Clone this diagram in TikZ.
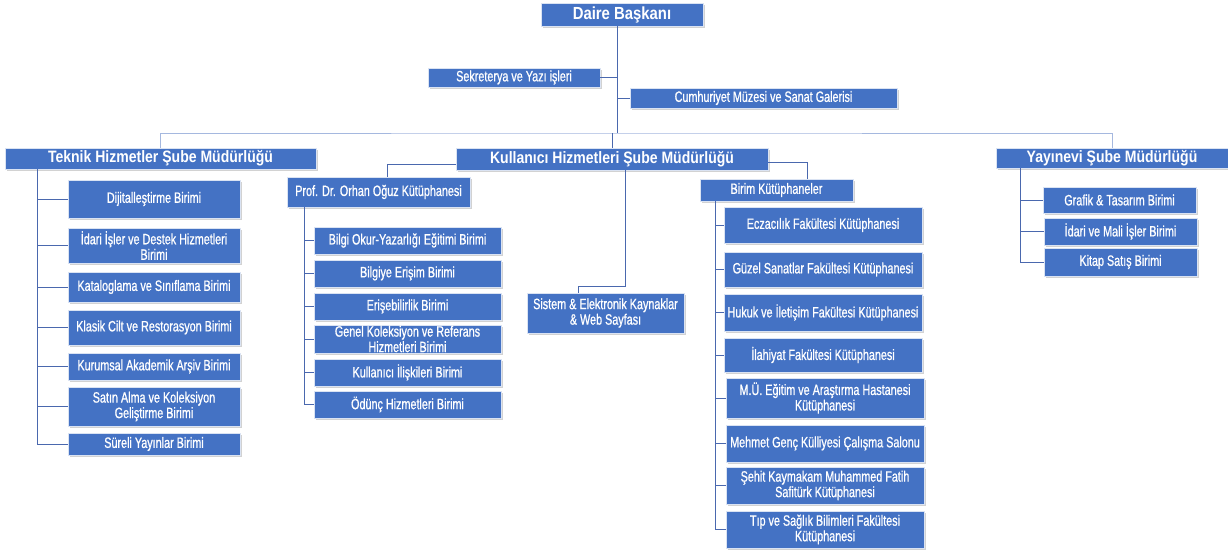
\documentclass[tikz,border=0pt]{standalone}
\usepackage{fontspec}
\setmainfont{Liberation Sans}[FakeStretch=0.72,FakeBold=0.8]
\newfontfamily\headfont{Liberation Sans}[FakeStretch=0.85]
\usetikzlibrary{shadows}
\definecolor{boxblue}{HTML}{4472C4}
\definecolor{linkblue}{HTML}{4A68AE}
\definecolor{barblue}{HTML}{A5B8DF}
\begin{document}
\begin{tikzpicture}[x=1pt,y=-1pt,
  unit/.style={fill=boxblue, draw=white!80!boxblue, line width=0.4pt, text=white, align=center, inner sep=0pt,
    font=\fontsize{15}{15.5}\selectfont, drop shadow={shadow xshift=2pt,shadow yshift=-2pt,opacity=0.35}},
  head/.style={unit, font=\headfont\fontsize{16.5}{19}\selectfont\bfseries},
  sz/.style 2 args={minimum width=#1pt, minimum height=#2pt},
  link/.style={draw=linkblue, line width=0.8pt}]
\fill[white] (0,0) rectangle (1228,553);
\useasboundingbox (0,0) rectangle (1228,553);
\node[head, sz={162}{23}, font=\headfont\fontsize{17.5}{19}\selectfont\bfseries] (daire) at (622,14.5) {Daire Başkanı};
\node[unit, sz={172}{19}] (sekreterya) at (514,77.5) {Sekreterya ve Yazı işleri};
\node[unit, sz={267}{20}] (muze) at (763.5,98) {Cumhuriyet Müzesi ve Sanat Galerisi};
\node[head, sz={311}{21}] (teknik) at (160.5,158.5) {Teknik Hizmetler Şube Müdürlüğü};
\node[head, sz={312}{22}] (kullanici) at (612,159) {Kullanıcı Hizmetleri Şube Müdürlüğü};
\node[head, sz={232}{20}] (yayinevi) at (1112,158) {Yayınevi Şube Müdürlüğü};
\node[unit, sz={172}{38}] (dijital) at (154,199) {Dijitalleştirme Birimi};
\node[unit, sz={172}{35}] (idari) at (154,245.5) {İdari İşler ve Destek Hizmetleri\\Birimi};
\node[unit, sz={172}{30}] (katalog) at (154,287) {Kataloglama ve Sınıflama Birimi};
\node[unit, sz={172}{35}] (cilt) at (154,327.5) {Klasik Cilt ve Restorasyon Birimi};
\node[unit, sz={172}{27}] (arsiv) at (154,366.5) {Kurumsal Akademik Arşiv Birimi};
\node[unit, sz={172}{39}] (satinalma) at (154,406.5) {Satın Alma ve Koleksiyon\\Geliştirme Birimi};
\node[unit, sz={172}{22}] (sureli) at (154,444) {Süreli Yayınlar Birimi};
\node[unit, sz={183}{30}] (prof) at (378.5,192) {Prof. Dr. Orhan Oğuz Kütüphanesi};
\node[unit, sz={187}{27}] (okuryazar) at (407.5,240.5) {Bilgi Okur-Yazarlığı Eğitimi Birimi};
\node[unit, sz={187}{27}] (erisim) at (407.5,273.5) {Bilgiye Erişim Birimi};
\node[unit, sz={187}{27}] (erisebilir) at (407.5,306.5) {Erişebilirlik Birimi};
\node[unit, sz={187}{28}] (genel) at (407.5,339) {Genel Koleksiyon ve Referans\\Hizmetleri Birimi};
\node[unit, sz={187}{27}] (iliski) at (407.5,372.5) {Kullanıcı İlişkileri Birimi};
\node[unit, sz={187}{27}] (odunc) at (407.5,404.5) {Ödünç Hizmetleri Birimi};
\node[unit, sz={157}{40}] (sistem) at (605.5,313) {Sistem \& Elektronik Kaynaklar\\\& Web Sayfası};
\node[unit, sz={153}{22}] (birim) at (776.5,190) {Birim Kütüphaneler};
\node[unit, sz={198}{36}] (eczacilik) at (823,225) {Eczacılık Fakültesi Kütüphanesi};
\node[unit, sz={198}{35}] (guzel) at (823,269.5) {Güzel Sanatlar Fakültesi Kütüphanesi};
\node[unit, sz={198}{37}] (hukuk) at (823,312.5) {Hukuk ve İletişim Fakültesi Kütüphanesi};
\node[unit, sz={198}{34}] (ilahiyat) at (823,355) {İlahiyat Fakültesi Kütüphanesi};
\node[unit, sz={198}{40}] (hastane) at (825,398) {M.Ü. Eğitim ve Araştırma Hastanesi\\Kütüphanesi};
\node[unit, sz={198}{37}] (mehmetgenc) at (825,443.5) {Mehmet Genç Külliyesi Çalışma Salonu};
\node[unit, sz={198}{37}] (safiturk) at (825,485.5) {Şehit Kaymakam Muhammed Fatih\\Safitürk Kütüphanesi};
\node[unit, sz={198}{37}] (tip) at (825,529.5) {Tıp ve Sağlık Bilimleri Fakültesi\\Kütüphanesi};
\node[unit, sz={153}{26}] (grafik) at (1119.5,200) {Grafik \& Tasarım Birimi};
\node[unit, sz={153}{27}] (idarimali) at (1120.5,231.5) {İdari ve Mali İşler Birimi};
\node[unit, sz={153}{28}] (kitap) at (1120.5,262) {Kitap Satış Birimi};
\coordinate (spine) at (617,133);
\path[link] (daire.south -| spine) -- (spine);
\path[link] (sekreterya.east) -- (sekreterya.east -| spine);
\path[link] (muze.west) -- (muze.west -| spine);
\path[draw=barblue, line width=0.8pt] (teknik.north) |- (spine) -| (yayinevi.north);
\path[link] (kullanici.north) -- (kullanici.north |- spine);
\path[link] ([yshift=-5pt]kullanici.west) -| ([xshift=8.5pt]prof.north);
\coordinate (sk) at (625,286);
\path[link] (kullanici.south -| sk) -- (sk) -| ([xshift=-27.5pt]sistem.north);
\path[link] ([yshift=-3pt]kullanici.east) -| ([xshift=30.5pt]birim.north);
\coordinate (tk) at (37,0);
\foreach \n in {dijital,idari,katalog,cilt,arsiv,satinalma,sureli}
  \path[link] (teknik.south -| tk) |- (\n.west);
\coordinate (pk) at (304,0);
\foreach \n in {okuryazar,erisim,erisebilir,genel,iliski,odunc}
  \path[link] (prof.south -| pk) |- (\n.west);
\coordinate (bk) at (715,0);
\foreach \n in {eczacilik,guzel,hukuk,ilahiyat,hastane,mehmetgenc,safiturk,tip}
  \path[link] (birim.south -| bk) |- (\n.west);
\coordinate (yk) at (1020,0);
\foreach \n in {grafik,idarimali,kitap}
  \path[link] (yayinevi.south -| yk) |- (\n.west);
\end{tikzpicture}
\end{document}
